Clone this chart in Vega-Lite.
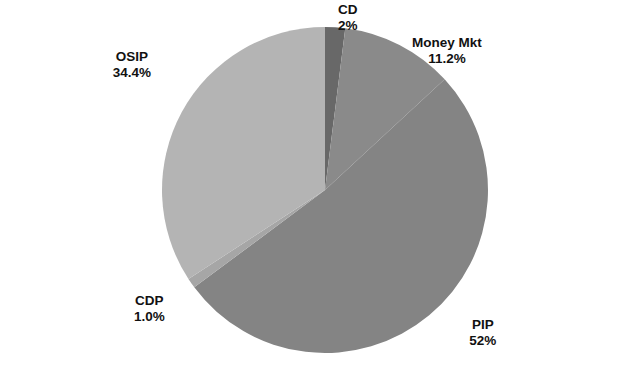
{
  "$schema": "https://vega.github.io/schema/vega-lite/v6.json",
  "width": 592,
  "height": 356,
  "autosize": {"type": "none"},
  "padding": {"left": 29, "top": 12, "right": 0, "bottom": 0},
  "background": "white",
  "view": {"stroke": null},
  "data": {"values": [
    {"seq": 1, "cat": "CD", "share": 2, "label": "CD\n2%"},
    {"seq": 2, "cat": "Money Mkt", "share": 11.2, "label": "Money Mkt\n11.2%"},
    {"seq": 3, "cat": "PIP", "share": 52, "label": "PIP\n52%"},
    {"seq": 4, "cat": "CDP", "share": 1.0, "label": "CDP\n1.0%"},
    {"seq": 5, "cat": "OSIP", "share": 34.4, "label": "OSIP\n34.4%"}
  ]},
  "encoding": {
    "theta": {"field": "share", "type": "quantitative", "stack": true},
    "order": {"field": "seq", "type": "quantitative"}
  },
  "layer": [
    {
      "mark": {"type": "arc", "outerRadius": 163},
      "encoding": {
        "color": {"field": "cat", "type": "nominal", "legend": null,
          "scale": {"domain": ["CD", "Money Mkt", "PIP", "CDP", "OSIP"],
                    "range": ["#686868", "#8a8a8a", "#848484", "#a6a6a6", "#b4b4b4"]}}
      }
    },
    {
      "mark": {"type": "text", "radius": 174, "dx": 12, "dy": -6, "font": "Liberation Sans", "fontSize": 13.5, "fontWeight": "bold", "lineBreak": "\n", "lineHeight": 16, "align": "center", "baseline": "middle", "color": "#111"},
      "encoding": {"text": {"condition": {"test": "datum.cat === 'CD'", "field": "label"}, "value": ""}}
    },
    {
      "mark": {"type": "text", "radius": 175, "dx": 42, "dy": 9, "font": "Liberation Sans", "fontSize": 13.5, "fontWeight": "bold", "lineBreak": "\n", "lineHeight": 16, "align": "center", "baseline": "middle", "color": "#111"},
      "encoding": {"text": {"condition": {"test": "datum.cat === 'Money Mkt'", "field": "label"}, "value": ""}}
    },
    {
      "mark": {"type": "text", "radius": 200, "dx": 30, "dy": -19, "font": "Liberation Sans", "fontSize": 13.5, "fontWeight": "bold", "lineBreak": "\n", "lineHeight": 16, "align": "center", "baseline": "middle", "color": "#111"},
      "encoding": {"text": {"condition": {"test": "datum.cat === 'PIP'", "field": "label"}, "value": ""}}
    },
    {
      "mark": {"type": "text", "radius": 213, "dx": -1, "dy": -11, "font": "Liberation Sans", "fontSize": 13.5, "fontWeight": "bold", "lineBreak": "\n", "lineHeight": 16, "align": "center", "baseline": "middle", "color": "#111"},
      "encoding": {"text": {"condition": {"test": "datum.cat === 'CDP'", "field": "label"}, "value": ""}}
    },
    {
      "mark": {"type": "text", "radius": 230, "dx": 9, "dy": -23, "font": "Liberation Sans", "fontSize": 13.5, "fontWeight": "bold", "lineBreak": "\n", "lineHeight": 16, "align": "center", "baseline": "middle", "color": "#111"},
      "encoding": {"text": {"condition": {"test": "datum.cat === 'OSIP'", "field": "label"}, "value": ""}}
    }
  ]
}
